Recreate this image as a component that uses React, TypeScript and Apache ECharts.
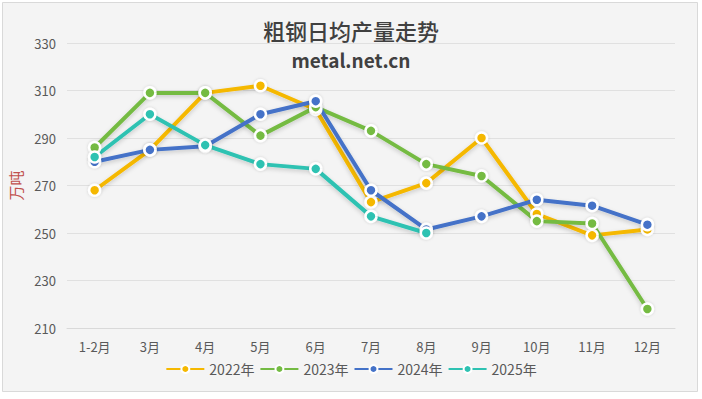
import React, { useEffect, useRef } from "react";
import * as echarts from "echarts";

const categories = ["1-2月", "3月", "4月", "5月", "6月", "7月", "8月", "9月", "10月", "11月", "12月"];
const s2022 = [268, 285, 309, 312, 302, 263, 271, 290, 258, 249, 251.5];
const s2023 = [286, 309, 309, 291, 303, 293, 279, 274, 255, 254, 218];
const s2024 = [280, 285, 286.5, 300, 305.5, 268, 251.5, 257, 264, 261.5, 253.5];
const s2025 = [282, 300, 287, 279, 277, 257, 250];
const seriesNames = ["2022年", "2023年", "2024年", "2025年"];
const colors = ["#f5b800", "#74bb43", "#4472c8", "#2ec2b2"];

export default function App() {
  const ref = useRef<HTMLDivElement>(null);
  useEffect(() => {
    document.body.style.margin = "0";
    const chart = echarts.init(ref.current!, undefined, { renderer: "svg" });
    const datas = [s2022, s2023, s2024, s2025];
    const font = "'Noto Sans CJK SC', 'Noto Sans', sans-serif";
    chart.setOption({
      animation: false,
      backgroundColor: "#ffffff",
      graphic: [
        {
          type: "rect",
          left: 2,
          top: 2,
          shape: { width: 695, height: 389 },
          style: { fill: "#f4f4f4", stroke: "#d9d9d9", lineWidth: 1 },
          z: -10,
        },
      ],
      title: [
        {
          text: "粗钢日均产量走势",
          left: "center",
          top: 14,
          textStyle: { fontFamily: font, fontSize: 22, fontWeight: 500, color: "#404040" },
        },
        {
          text: "metal.net.cn",
          left: "center",
          top: 45,
          textStyle: { fontFamily: font, fontSize: 19, fontWeight: "bold", color: "#404040" },
        },
      ],
      legend: {
        bottom: 18,
        left: "center",
        itemGap: 5,
        itemWidth: 38,
        itemHeight: 10,
        textStyle: { fontFamily: font, fontSize: 14, color: "#595959" },
        data: seriesNames,
      },
      grid: { left: 67, right: 27, top: 43, bottom: 71 },
      xAxis: {
        type: "category",
        data: categories,
        boundaryGap: true,
        axisLine: { lineStyle: { color: "#d9d9d9" } },
        axisTick: { show: false },
        axisLabel: { fontFamily: font, fontSize: 13, color: "#595959", margin: 12 },
      },
      yAxis: {
        type: "value",
        min: 210,
        max: 330,
        interval: 20,
        name: "万吨",
        nameLocation: "middle",
        nameRotate: 90,
        nameGap: 44,
        nameTextStyle: { fontFamily: font, fontSize: 15, color: "#c0504d" },
        axisLine: { show: false },
        axisTick: { show: false },
        axisLabel: { fontFamily: font, fontSize: 13, color: "#595959", margin: 11 },
        splitLine: { lineStyle: { color: "#e0e0e0" } },
      },
      series: datas.map((d, i) => ({
        name: seriesNames[i],
        type: "line",
        data: d,
        symbol: "circle",
        symbolSize: 11,
        color: colors[i],
        lineStyle: {
          width: 4,
          color: colors[i],
          shadowColor: "rgba(0,0,0,0.18)",
          shadowBlur: 4,
          shadowOffsetY: 2,
        },
        itemStyle: {
          color: colors[i],
          borderColor: "#ffffff",
          borderWidth: 2.5,
          shadowColor: "rgba(0,0,0,0.15)",
          shadowBlur: 3,
        },
      })),
    });
    return () => chart.dispose();
  }, []);
  return <div ref={ref} style={{ position: "absolute", left: 0, top: 0, width: 702, height: 399 }} />;
}
